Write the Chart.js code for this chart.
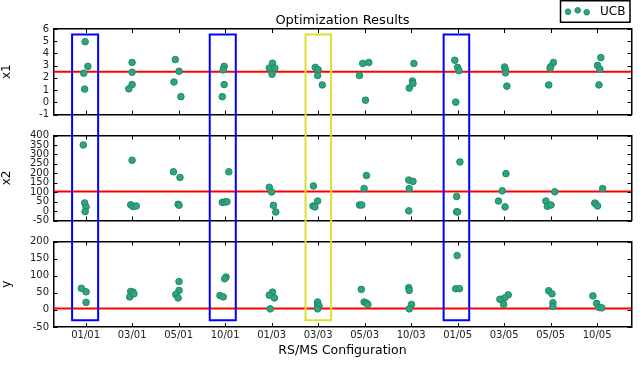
<!DOCTYPE html>
<html>
<head>
<meta charset="utf-8">
<script src="https://cdn.jsdelivr.net/npm/chart.js@4/dist/chart.umd.min.js"></script>
<style>
  html, body { margin: 0; background: #fff; }
  #wrap { position: relative; width: 640px; height: 380px; }
  canvas { position: absolute; left: 0; }
</style>
</head>
<body>
<div id="wrap">
  <canvas id="pX1" width="640" height="125" style="top:0"></canvas>
  <canvas id="pX2" width="640" height="106" style="top:125px"></canvas>
  <canvas id="pY"  width="640" height="149" style="top:231px"></canvas>
</div>
<script>
// ── datos ─────────────────────────────────────────────────────────────────
const CATS = ['01/01', '03/01', '05/01', '10/01', '01/03', '03/03',
              '05/03', '10/03', '01/05', '03/05', '05/05', '10/05'];

// x1 por configuración (valor) y desplazamiento horizontal (jitter)
const X1_VAL = [
  [4.96, 2.94, 2.38, 1.08], [3.26, 2.46, 1.45, 1.10], [3.50, 2.54, 1.66, 0.46],
  [2.94, 2.65, 1.45, 0.46], [3.20, 2.80, 2.80, 2.30], [2.86, 2.67, 2.19, 1.42],
  [3.18, 3.26, 2.19, 0.17], [3.18, 1.74, 1.53, 1.16], [3.44, 2.86, 2.59, 0.01],
  [2.89, 2.67, 2.41, 1.32], [3.26, 2.91, 2.78, 1.42], [3.66, 3.02, 2.70, 1.42]
];
const X1_DX = [
  [-0.01, 0.05, -0.04, -0.02], [0, 0, 0, -0.07], [-0.07, 0.01, -0.10, 0.05],
  [-0.02, -0.04, -0.02, -0.06], [0.02, -0.05, 0.07, 0.01], [-0.06, 0, -0.01, 0.09],
  [-0.04, 0.09, -0.11, 0.02], [0.06, 0.03, 0.04, -0.04], [-0.06, 0, 0.03, -0.04],
  [0.01, 0.03, 0.03, 0.06], [0.06, 0, -0.01, -0.04], [0.08, 0.01, 0.06, 0.04]
];

const X2_VAL = [
  [350, 43, 22, -3], [269, 33, 24, 27], [208, 178, 36, 31], [208, 46, 48, 49],
  [126, 101, 30, -5], [133, 53, 27, 22], [188, 119, 32, 32], [164, 157, 119, 1],
  [260, 77, -4, -5], [198, 107, 53, 22], [102, 53, 25, 32], [119, 42, 39, 27]
];
const X2_DX = [
  [-0.05, -0.02, 0.01, -0.01], [0, -0.03, 0.02, 0.09], [-0.11, 0.03, -0.01, 0.01],
  [0.08, -0.06, -0.01, 0.04], [-0.05, 0, 0.04, 0.09], [-0.10, -0.01, -0.11, -0.07],
  [0.04, -0.01, -0.11, -0.06], [-0.05, 0.04, -0.04, -0.05], [0.05, -0.02, -0.02, 0],
  [0.04, -0.04, -0.12, 0.02], [0.09, -0.10, -0.07, 0.01], [0.12, -0.05, -0.03, 0.01]
];

const Y_VAL = [
  [63, 53, 22], [38, 54, 52, 47], [83, 57, 45, 35], [96, 91, 42, 38],
  [52, 43, 35, 3], [23, 14, 11, 3], [60, 23, 20, 16], [65, 57, 16, 3],
  [159, 62, 62], [44, 35, 31, 16], [56, 47, 21, 10], [41, 19, 7, 6]
];
const Y_DX = [
  [-0.09, 0.01, 0.01], [-0.05, -0.03, 0.02, 0.04], [0.01, 0.01, -0.06, -0.01],
  [0.02, -0.01, -0.11, -0.04], [0.02, -0.05, 0.06, -0.03], [-0.01, -0.01, 0.02, -0.01],
  [-0.07, -0.01, 0.04, 0.07], [-0.05, -0.04, 0.01, -0.04], [-0.01, -0.04, 0.04],
  [0.09, 0.01, -0.09, -0.01], [-0.04, 0.03, 0.05, 0.05], [-0.09, -0.01, 0.04, 0.10]
];

// líneas de referencia (rojas)
const X1_REF = 2.5;
const X2_REF = 104;
const Y_REF  = 4;

// cajas resaltadas: rango en x (unidades de categoría), tope en x1, fondo en y
const BOX_SPANS = [[-0.29, 0.27], [2.67, 3.23], [4.73, 5.28], [7.70, 8.25]];
const BOX_TOP    = 5.54;
const BOX_BOTTOM = -30;

// ── estilo ───────────────────────────────────────────────────────────────
const X_MIN = -0.69, X_MAX = 11.74;
const PT_FILL   = '#2fa47f';
const PT_EDGE   = '#1f8b66';
const BOX_COLORS = ['#0000ff', '#0000ff', '#dede2e', '#0000ff'];
const TXT = '#222';
const FONT = 'DejaVu Sans';

Chart.defaults.font.family = FONT;

const NO_GRID = { display: false, drawTicks: false };
const BORDER  = { display: true, color: '#000', width: 1.5 };

// marcas de graduación hacia dentro, en los cuatro lados (estilo matplotlib)
const innerTicks = {
  id: 'innerTicks',
  afterDraw(chart) {
    const { ctx, chartArea: a } = chart;
    const xs = chart.scales.x, ys = chart.scales.y;
    const L = 4;
    ctx.save();
    ctx.strokeStyle = '#000';
    ctx.lineWidth = 1;
    ctx.beginPath();
    xs.ticks.forEach(t => {
      const px = Math.round(xs.getPixelForValue(t.value)) + 0.5;
      ctx.moveTo(px, a.bottom); ctx.lineTo(px, a.bottom - L);
      ctx.moveTo(px, a.top);    ctx.lineTo(px, a.top + L);
    });
    ys.ticks.forEach(t => {
      const py = Math.round(ys.getPixelForValue(t.value)) + 0.5;
      ctx.moveTo(a.left, py);  ctx.lineTo(a.left + L, py);
      ctx.moveTo(a.right, py); ctx.lineTo(a.right - L, py);
    });
    ctx.stroke();
    ctx.restore();
  }
};

const boxesPlugin = {
  id: 'boxes',
  afterDraw(chart, args, o) {
    const { ctx } = chart;
    const xs = chart.scales.x, ys = chart.scales.y;
    const hasTop = o.top != null, hasBot = o.bottom != null;
    const top = hasTop ? ys.getPixelForValue(o.top) : 0;
    const bot = hasBot ? ys.getPixelForValue(o.bottom) : chart.height;
    ctx.save();
    ctx.lineWidth = 2;
    BOX_SPANS.forEach(([a, b], k) => {
      const l = xs.getPixelForValue(a), r = xs.getPixelForValue(b);
      ctx.strokeStyle = BOX_COLORS[k];
      ctx.beginPath();
      if (hasTop) {
        ctx.moveTo(l, bot); ctx.lineTo(l, top); ctx.lineTo(r, top); ctx.lineTo(r, bot);
      } else if (hasBot) {
        ctx.moveTo(l, top); ctx.lineTo(l, bot); ctx.lineTo(r, bot); ctx.lineTo(r, top);
      } else {
        ctx.moveTo(l, top); ctx.lineTo(l, bot); ctx.moveTo(r, top); ctx.lineTo(r, bot);
      }
      ctx.stroke();
    });
    ctx.restore();
  }
};

const ucbLegend = {
  id: 'ucbLegend',
  afterDraw(chart, args, o) {
    if (!o.show) return;
    const { ctx } = chart;
    ctx.save();
    ctx.fillStyle = '#fff';
    ctx.fillRect(560.5, 0.75, 69.5, 21.5);
    ctx.strokeStyle = '#000';
    ctx.lineWidth = 1.5;
    ctx.strokeRect(560.5, 0.75, 69.5, 21.5);
    [[568, 11.7], [577.7, 10.3], [586.7, 12.3]].forEach(([x, y]) => {
      ctx.beginPath();
      ctx.arc(x, y, 2.8, 0, Math.PI * 2);
      ctx.fillStyle = PT_FILL; ctx.fill();
      ctx.strokeStyle = PT_EDGE; ctx.lineWidth = 1; ctx.stroke();
    });
    ctx.fillStyle = '#000';
    ctx.font = '12px "' + FONT + '"';
    ctx.textBaseline = 'middle';
    ctx.fillText('UCB', 600, 11.5);
    ctx.restore();
  }
};

function catTicks(s) { s.ticks = CATS.map((c, i) => ({ value: i })); }

function buildPanel(id, p) {
  const pts = [];
  p.vals.forEach((arr, i) => arr.forEach((v, k) => pts.push({ x: i + p.dx[i][k], y: v })));

  return new Chart(document.getElementById(id), {
    type: 'scatter',
    data: {
      datasets: [
        {
          data: pts, order: 0,
          backgroundColor: PT_FILL, borderColor: PT_EDGE,
          borderWidth: 1, pointRadius: 3.3
        },
        {
          type: 'line', order: 1,
          data: [{ x: X_MIN, y: p.ref }, { x: X_MAX, y: p.ref }],
          borderColor: '#ff0000', borderWidth: 2, pointRadius: 0, fill: false
        }
      ]
    },
    options: {
      animation: false, responsive: false,
      layout: { padding: { left: 0, right: 8.5, top: p.padTop, bottom: p.padBottom } },
      plugins: {
        legend:  { display: false },
        tooltip: { enabled: false },
        title: p.title ? {
          display: true, text: p.title, fullSize: false, color: '#000',
          font: { size: 13, weight: 'normal', lineHeight: 1.2 }, padding: { top: 12.7, bottom: 0.7 }
        } : { display: false },
        boxes: { top: p.boxTop, bottom: p.boxBottom },
        ucbLegend: { show: !!p.legend }
      },
      scales: {
        x: {
          type: 'linear', position: 'bottom', min: X_MIN, max: X_MAX,
          afterBuildTicks: catTicks,
          afterFit: s => { s.height = p.xHeight; },
          ticks: {
            display: !!p.showX, autoSkip: false, maxRotation: 0, padding: 2,
            color: TXT, font: { size: 10 }, callback: v => CATS[v]
          },
          grid: NO_GRID, border: BORDER,
          title: {
            display: !!p.showX, text: 'RS/MS Configuration', color: '#000',
            font: { size: 12.5 }, padding: { top: 0, bottom: 21.5 }
          }
        },
        xT: {
          type: 'linear', position: 'top', min: X_MIN, max: X_MAX,
          afterBuildTicks: catTicks,
          afterFit: s => { s.height = 0; },
          ticks: { display: false },
          grid: NO_GRID, border: BORDER
        },
        y: {
          type: 'linear', position: 'left', min: p.min, max: p.max,
          afterFit: s => { s.width = 53.5; },
          ticks: { stepSize: p.step, autoSkip: false, padding: 4.5, color: TXT, font: { size: 10 } },
          grid: NO_GRID, border: BORDER,
          title: {
            display: true, text: p.label, color: '#000',
            font: { size: 12, lineHeight: 1.2 }, padding: 0
          }
        },
        yR: {
          type: 'linear', position: 'right', min: p.min, max: p.max,
          afterFit: s => { s.width = 0; },
          ticks: { display: false, stepSize: p.step },
          grid: NO_GRID, border: BORDER
        }
      }
    },
    plugins: [innerTicks, boxesPlugin, ucbLegend]
  });
}

buildPanel('pX1', {
  vals: X1_VAL, dx: X1_DX, ref: X1_REF, label: 'x1',
  min: -1, max: 6, step: 1,
  title: 'Optimization Results', legend: true,
  padTop: 0, padBottom: 8.3, xHeight: 0,
  boxTop: BOX_TOP
});

buildPanel('pX2', {
  vals: X2_VAL, dx: X2_DX, ref: X2_REF, label: 'x2',
  min: -50, max: 400, step: 50,
  padTop: 9, padBottom: 9.3, xHeight: 0
});

buildPanel('pY', {
  vals: Y_VAL, dx: Y_DX, ref: Y_REF, label: 'y',
  min: -50, max: 200, step: 50,
  padTop: 9, padBottom: 0, xHeight: 53, showX: true,
  boxBottom: BOX_BOTTOM
});
</script>
</body>
</html>
